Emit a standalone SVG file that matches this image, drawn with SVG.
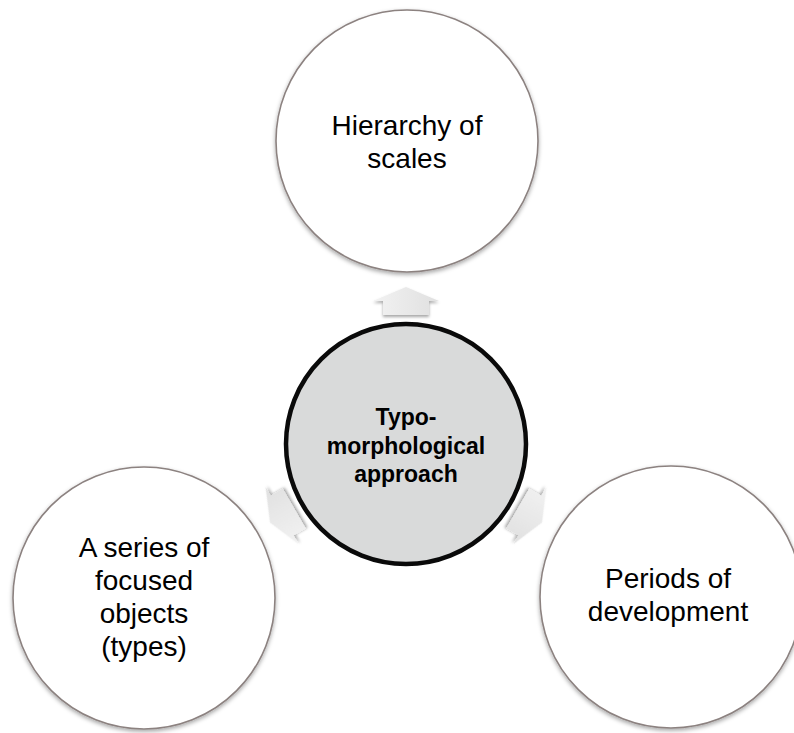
<svg xmlns="http://www.w3.org/2000/svg" width="794" height="733" viewBox="0 0 794 733">
<style>
.outer{fill:#ffffff;stroke:#8c8280;stroke-width:1.6;filter:url(#sh)}
.center{fill:#d9dada;stroke:#0a0a0a;stroke-width:4.5}
.t{font-family:"Liberation Sans",Arial,sans-serif;font-size:28px;fill:#000;text-anchor:middle}
.tb{font-family:"Liberation Sans",Arial,sans-serif;font-size:23px;font-weight:bold;fill:#000;text-anchor:middle}
.arr{fill:url(#ag);filter:url(#ash)}
</style>
<defs>
<filter id="sh" x="-10%" y="-10%" width="120%" height="125%">
<feDropShadow dx="0" dy="2" stdDeviation="2" flood-color="#000" flood-opacity="0.35"/>
</filter>
<filter id="ash" x="-30%" y="-30%" width="160%" height="180%">
<feDropShadow dx="0" dy="2" stdDeviation="1.5" flood-color="#000" flood-opacity="0.35"/>
</filter>
<linearGradient id="ag" x1="0" y1="0" x2="1" y2="0">
<stop offset="0" stop-color="#f2f2f2"/>
<stop offset="1" stop-color="#e0e0e0"/>
</linearGradient>
<path id="arrow" d="M406,287 L439,301 L429,301 L429,315 L383,315 L383,301 L373,301 Z"/>
</defs>
<rect width="794" height="733" fill="#ffffff"/>
<g id="connectors">
<use href="#arrow" class="arr"/>
<use href="#arrow" class="arr" transform="rotate(-120 406 444)"/>
<use href="#arrow" class="arr" transform="rotate(120 406 444)"/>
</g>
<g id="node-top">
<circle class="outer" cx="407" cy="141" r="131"/>
<text class="t" x="407" y="135">Hierarchy of</text>
<text class="t" x="407" y="168">scales</text>
</g>
<g id="node-left">
<circle class="outer" cx="144" cy="598" r="131"/>
<text class="t" x="144" y="557">A series of</text>
<text class="t" x="144" y="590">focused</text>
<text class="t" x="144" y="623">objects</text>
<text class="t" x="144" y="656">(types)</text>
</g>
<g id="node-right">
<circle class="outer" cx="671" cy="597" r="131"/>
<text class="t" x="668" y="588">Periods of</text>
<text class="t" x="668" y="621">development</text>
</g>
<g id="node-center">
<circle class="center" cx="406" cy="444" r="120"/>
<text class="tb" x="406" y="425">Typo-</text>
<text class="tb" x="406" y="454">morphological</text>
<text class="tb" x="406" y="482">approach</text>
</g>
</svg>
